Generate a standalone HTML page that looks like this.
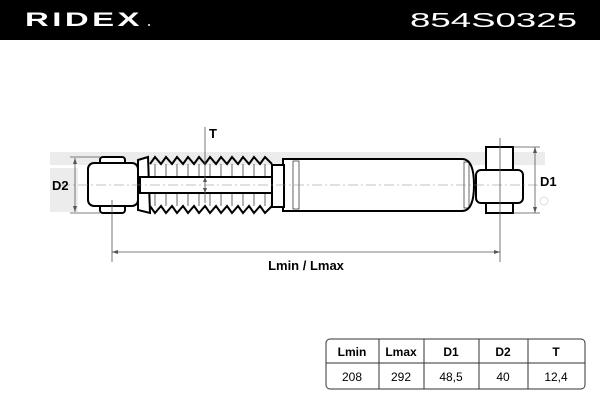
<!DOCTYPE html>
<html><head><meta charset="utf-8"><style>
html,body{margin:0;padding:0;background:#fff;width:600px;height:400px;overflow:hidden}
svg{display:block}
text{font-family:"Liberation Sans",sans-serif}
</style></head><body>
<svg width="600" height="400" viewBox="0 0 600 400" xmlns="http://www.w3.org/2000/svg">
<rect x="0" y="0" width="600" height="40" fill="#000"/>
<text x="25" y="26" fill="#fff" font-size="19" font-weight="bold" letter-spacing="2" textLength="118" lengthAdjust="spacingAndGlyphs">RIDEX</text>
<circle cx="149" cy="25" r="1" fill="#fff"/>
<text x="577" y="27" fill="#fff" font-size="20" text-anchor="end" textLength="167" lengthAdjust="spacingAndGlyphs">854S0325</text>

<g fill="#ececec">
<rect x="50" y="152" width="495" height="13"/>
<rect x="50" y="168" width="28" height="44"/>
<rect x="315" y="174" width="105" height="10"/>
<rect x="315" y="194" width="105" height="10"/>
<polygon points="430,152 445,152 470,185 445,212 430,212 455,185"/>
</g>
<circle cx="544" cy="201" r="4" fill="none" stroke="#ddd" stroke-width="1"/>

<g stroke="#000" fill="#fff" stroke-width="2">
<rect x="100" y="157" width="25" height="56" rx="3"/>
<rect x="88" y="163" width="50" height="43" rx="6"/>
<polygon points="138,160 148,157 150,213 138,210"/>
<path d="M283,159 H462 Q474,159 474,185 Q474,211 462,211 H283 Z"/>
<rect x="486" y="147" width="27" height="66"/>
<rect x="476" y="170" width="47" height="33" rx="5"/>
</g>
<g stroke="#000" fill="none" stroke-width="2">
<polyline points="150,164 155,157 161,164 166,157 172,164 177,157 183,164 188,157 194,164 199,157 205,164 210,157 216,164 221,157 227,164 232,157 238,164 243,157 249,164 254,157 260,164 265,157 272,164"/>
<polyline points="150,206 155,213 161,206 166,213 172,206 177,213 183,206 188,213 194,206 199,213 205,206 210,213 216,206 221,213 227,206 232,213 238,206 243,213 249,206 254,213 260,206 265,213 272,206"/>
</g>
<g stroke="#000" stroke-width="0.6">
<line x1="155" y1="164" x2="155" y2="206"/><line x1="166" y1="164" x2="166" y2="206"/><line x1="177" y1="164" x2="177" y2="206"/><line x1="188" y1="164" x2="188" y2="206"/><line x1="199" y1="164" x2="199" y2="206"/><line x1="210" y1="164" x2="210" y2="206"/><line x1="221" y1="164" x2="221" y2="206"/><line x1="232" y1="164" x2="232" y2="206"/><line x1="243" y1="164" x2="243" y2="206"/><line x1="254" y1="164" x2="254" y2="206"/><line x1="265" y1="164" x2="265" y2="206"/>
<rect x="293" y="161" width="6" height="48" fill="none"/>
<rect x="464" y="162" width="5" height="46" fill="none"/>
</g>
<g stroke="#000" fill="#fff" stroke-width="2">
<rect x="140" y="177" width="135" height="16"/>
<rect x="272" y="165" width="12" height="42"/>
</g>
<line x1="60" y1="185" x2="540" y2="185" stroke="#888" stroke-width="0.6" stroke-dasharray="10,3,2,3"/>

<g stroke="#555" stroke-width="0.8" fill="none">
<line x1="75" y1="158" x2="75" y2="212"/>
<line x1="70" y1="157" x2="100" y2="157"/><line x1="70" y1="213" x2="100" y2="213"/>
<line x1="535" y1="147" x2="535" y2="213"/>
<line x1="513" y1="147" x2="540" y2="147"/><line x1="513" y1="213" x2="540" y2="213"/>
<line x1="112" y1="200" x2="112" y2="262"/>
<line x1="500" y1="138" x2="500" y2="262"/>
<line x1="112" y1="252" x2="500" y2="252"/>
<line x1="205" y1="127" x2="205" y2="203"/>
</g>
<g fill="#555">
<polygon points="75,158 73,164 77,164"/><polygon points="75,212 73,206 77,206"/>
<polygon points="535,147 533,153 537,153"/><polygon points="535,213 533,207 537,207"/>
<polygon points="112,252 118,250 118,254"/><polygon points="500,252 494,250 494,254"/>
<polygon points="205,177 203,182 207,182"/><polygon points="205,193 203,188 207,188"/>
</g>
<g font-weight="bold" font-size="13" fill="#000">
<text x="52" y="190">D2</text>
<text x="540" y="186">D1</text>
<text x="209" y="138">T</text>
<text x="306" y="270" text-anchor="middle">Lmin / Lmax</text>
</g>

<rect x="326" y="339" width="259" height="50" rx="4" fill="#fff" stroke="#333" stroke-width="1"/>
<g stroke="#333" stroke-width="1">
<line x1="326" y1="363" x2="585" y2="363"/>
<line x1="379" y1="339" x2="379" y2="389"/>
<line x1="424" y1="339" x2="424" y2="389"/>
<line x1="479" y1="339" x2="479" y2="389"/>
<line x1="528" y1="339" x2="528" y2="389"/>
</g>
<g font-size="12" text-anchor="middle" fill="#000">
<g font-weight="bold">
<text x="352" y="356">Lmin</text><text x="401" y="356">Lmax</text><text x="451" y="356">D1</text><text x="503" y="356">D2</text><text x="556" y="356">T</text>
</g>
<text x="352" y="381">208</text><text x="401" y="381">292</text><text x="451" y="381">48,5</text><text x="503" y="381">40</text><text x="556" y="381">12,4</text>
</g>
</svg>
</body></html>
